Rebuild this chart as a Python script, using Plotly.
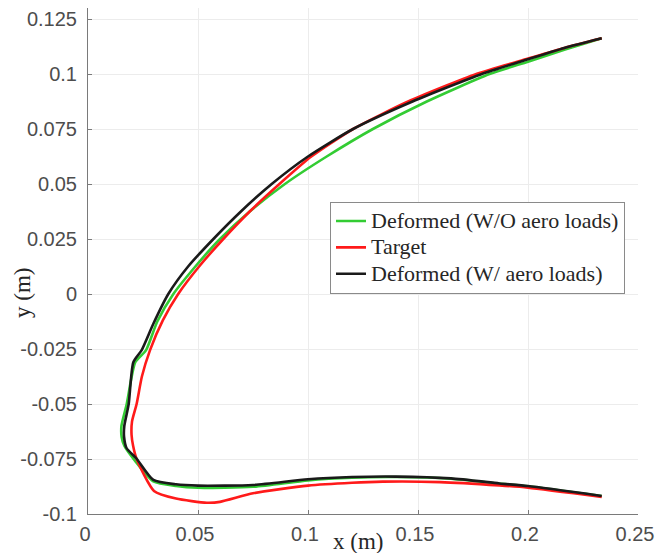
import plotly.graph_objects as go

# ---- data ----
green_x = [0.2335, 0.2165, 0.2, 0.1825, 0.154, 0.1295, 0.1085, 0.0895, 0.0735, 0.0600, 0.0488, 0.0388, 0.0315, 0.0264, 0.0215,
           0.0176, 0.0152, 0.0153, 0.0165, 0.0215, 0.0297, 0.04, 0.05, 0.075, 0.1, 0.12, 0.14, 0.165, 0.187, 0.2, 0.2335]
green_y = [0.1162, 0.1110, 0.1056, 0.1, 0.0875, 0.075, 0.0625, 0.05, 0.0375, 0.025, 0.0125, 0.0, -0.0125, -0.0255, -0.031,
           -0.05, -0.060, -0.065, -0.069, -0.076, -0.0852, -0.0873, -0.0881, -0.0876, -0.0847, -0.0835, -0.0832, -0.084, -0.0862, -0.0874, -0.0918]

red_x = [0.2335, 0.2165, 0.2, 0.1765, 0.1455, 0.1205, 0.1015, 0.0870, 0.0735, 0.0615, 0.0505, 0.041, 0.034, 0.0282, 0.0245,
         0.0221, 0.0200, 0.0198, 0.0205, 0.0221, 0.030, 0.04, 0.054, 0.06, 0.075, 0.1, 0.12, 0.134, 0.16, 0.187, 0.2, 0.2335]
red_y = [0.1162, 0.1118, 0.107, 0.1, 0.0875, 0.075, 0.0625, 0.05, 0.0375, 0.025, 0.0125, 0.0, -0.012, -0.0255, -0.0375,
         -0.05, -0.058, -0.064, -0.069, -0.075, -0.0895, -0.093, -0.0949, -0.0945, -0.0906, -0.0871, -0.0858, -0.0853, -0.0855, -0.087, -0.088, -0.0922]

black_x = [0.2335, 0.2165, 0.2, 0.179, 0.1475, 0.1205, 0.1, 0.0835, 0.0695, 0.057, 0.0455, 0.0365, 0.0297, 0.0244, 0.0206,
           0.0185, 0.0165, 0.0164, 0.0175, 0.0222, 0.0297, 0.04, 0.05, 0.075, 0.1, 0.12, 0.14, 0.165, 0.187, 0.2, 0.2335]
black_y = [0.1162, 0.1118, 0.1067, 0.1, 0.0875, 0.075, 0.0625, 0.05, 0.0375, 0.025, 0.0125, 0.0, -0.0135, -0.0255, -0.031,
           -0.05, -0.060, -0.065, -0.070, -0.075, -0.0845, -0.0865, -0.0871, -0.0868, -0.0842, -0.0832, -0.083, -0.0838, -0.0861, -0.0873, -0.0918]

series_names = ["Deformed (W/O aero loads)", "Target", "Deformed (W/ aero loads)"]

x_ticks = [0, 0.05, 0.1, 0.15, 0.2, 0.25]
x_tick_labels = ["0", "0.05", "0.1", "0.15", "0.2", "0.25"]
y_ticks = [-0.1, -0.075, -0.05, -0.025, 0, 0.025, 0.05, 0.075, 0.1, 0.125]
y_tick_labels = ["-0.1", "-0.075", "-0.05", "-0.025", "0", "0.025", "0.05", "0.075", "0.1", "0.125"]

# ---- figure ----
colors = ["#33cc33", "#ff1a1a", "#1a1a1a"]
fig = go.Figure()
for xs, ys, name, c in zip([green_x, red_x, black_x], [green_y, red_y, black_y], series_names, colors):
    fig.add_trace(go.Scatter(x=xs, y=ys, mode="lines",
                             name='<span style="font-size:22px">' + name + '</span>',
                             line=dict(color=c, width=2.6, shape="spline", smoothing=0.6)))

tick_font = dict(family="Liberation Sans, Arial, sans-serif", size=20, color="#4d4d4d")
fig.update_xaxes(range=[0, 0.25], tickvals=x_ticks, ticktext=x_tick_labels,
                 showgrid=True, gridcolor="#ececec", gridwidth=1,
                 showline=True, linecolor="#7a7a7a", linewidth=1,
                 ticks="inside", ticklen=4, tickcolor="#7a7a7a", automargin=False,
                 ticklabeloverflow="allow", ticklabelshift=-3,
                 tickfont=tick_font, zeroline=False, ticklabelstandoff=2)
fig.update_yaxes(range=[-0.1, 0.13], tickvals=y_ticks, ticktext=y_tick_labels,
                 showgrid=True, gridcolor="#ececec", gridwidth=1,
                 showline=True, linecolor="#7a7a7a", linewidth=1,
                 ticks="inside", ticklen=4, tickcolor="#7a7a7a", automargin=False,
                 ticklabeloverflow="allow",
                 tickfont=tick_font, zeroline=False, ticklabelstandoff=6)

serif = "Liberation Serif, Times New Roman, serif"
fig.update_layout(
    width=655, height=553,
    margin=dict(l=88, r=17, t=8, b=39),
    plot_bgcolor="white", paper_bgcolor="white",
    showlegend=True,
    legend=dict(x=0.44, y=0.617, xanchor="left", yanchor="top",
                bgcolor="white", bordercolor="#8a8a8a", borderwidth=1,
                font=dict(family=serif, size=18, color="#262626"),
                itemwidth=30),
    annotations=[
        dict(text="x (m)", xref="paper", yref="paper", x=(358 - 88) / 550, y=(514 - 541) / 506,
             xanchor="center", yanchor="middle", showarrow=False,
             font=dict(family=serif, size=23, color="#262626")),
        dict(text="y (m)", xref="paper", yref="paper", x=(22 - 88) / 550, y=(514 - 293) / 506,
             xanchor="center", yanchor="middle", showarrow=False, textangle=-90,
             font=dict(family=serif, size=23, color="#262626")),
    ],
)

fig.write_html("out.html")
